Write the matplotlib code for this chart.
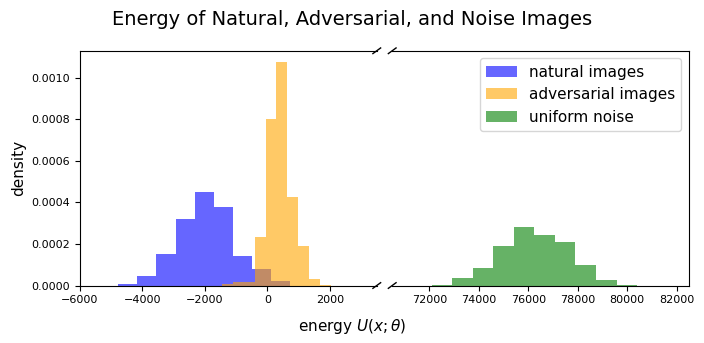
import numpy as np
import matplotlib
matplotlib.use("Agg")
import matplotlib.pyplot as plt
from matplotlib.ticker import FormatStrFormatter

# natural images histogram (density)
natural_edges = [-4781, -4168, -3555, -2942, -2329, -1716, -1103, -490, 123, 736]
natural_heights = [0.0000087, 0.0000457, 0.000150, 0.000320, 0.000450, 0.000376,
                   0.000142, 0.0000780, 0.0000231]

# adversarial images histogram (density)
adv_edges = [-1460, -1110, -760, -410, -60, 290, 640, 990, 1340, 1690, 2040]
adv_heights = [0.0000058, 0.0000154, 0.0000170, 0.000232, 0.000801, 0.001075,
               0.000426, 0.000192, 0.0000313, 0.0000038]

# uniform noise histogram (density)
noise_edges = [72100, 72930, 73760, 74590, 75420, 76250, 77080, 77910, 78740, 79570, 80400]
noise_heights = [0.0000012, 0.0000346, 0.0000828, 0.000189, 0.000283, 0.000243,
                 0.000208, 0.0000972, 0.0000279, 0.0000012]

left_xticks = [-6000, -4000, -2000, 0, 2000]
right_xticks = [72000, 74000, 76000, 78000, 80000, 82000]

fig, (ax1, ax2) = plt.subplots(1, 2, sharey=True, figsize=(7.04, 3.43), dpi=100)
fig.subplots_adjust(left=0.1136, right=0.9787, top=0.852, bottom=0.1676, wspace=0.052)

for ax in (ax1, ax2):
    ax.hist(natural_edges[:-1], bins=natural_edges, weights=natural_heights,
            color='blue', alpha=0.6, label='natural images')
    ax.hist(adv_edges[:-1], bins=adv_edges, weights=adv_heights,
            color='orange', alpha=0.6, label='adversarial images')
    ax.hist(noise_edges[:-1], bins=noise_edges, weights=noise_heights,
            color='green', alpha=0.6, label='uniform noise')

ax1.set_xlim(-6000, 3500)
ax2.set_xlim(70500, 82500)
ax1.set_xticks(left_xticks)
ax2.set_xticks(right_xticks)
ax1.yaxis.set_major_formatter(FormatStrFormatter('%.4f'))

ax1.spines['right'].set_visible(False)
ax2.spines['left'].set_visible(False)
ax2.tick_params(axis='y', left=False, labelleft=False)

for ax in (ax1, ax2):
    ax.tick_params(labelsize=8)

# broken-axis diagonal marks
dx, dy = 0.013, 0.012
kw = dict(color='k', clip_on=False, linewidth=1)
ax1.plot((1 - dx, 1 + dx), (-dy, dy), transform=ax1.transAxes, **kw)
ax1.plot((1 - dx, 1 + dx), (1 - dy, 1 + dy), transform=ax1.transAxes, **kw)
ax2.plot((-dx, dx), (-dy, dy), transform=ax2.transAxes, **kw)
ax2.plot((-dx, dx), (1 - dy, 1 + dy), transform=ax2.transAxes, **kw)

ax1.set_ylabel('density', fontsize=11)
ax2.legend(loc='upper right', fontsize=11)
fig.suptitle('Energy of Natural, Adversarial, and Noise Images', fontsize=14, y=0.97)
fig.text(0.5, 0.035, r'energy $U(x;\theta)$', ha='center', fontsize=11)

fig.savefig('out.png', dpi=100)
